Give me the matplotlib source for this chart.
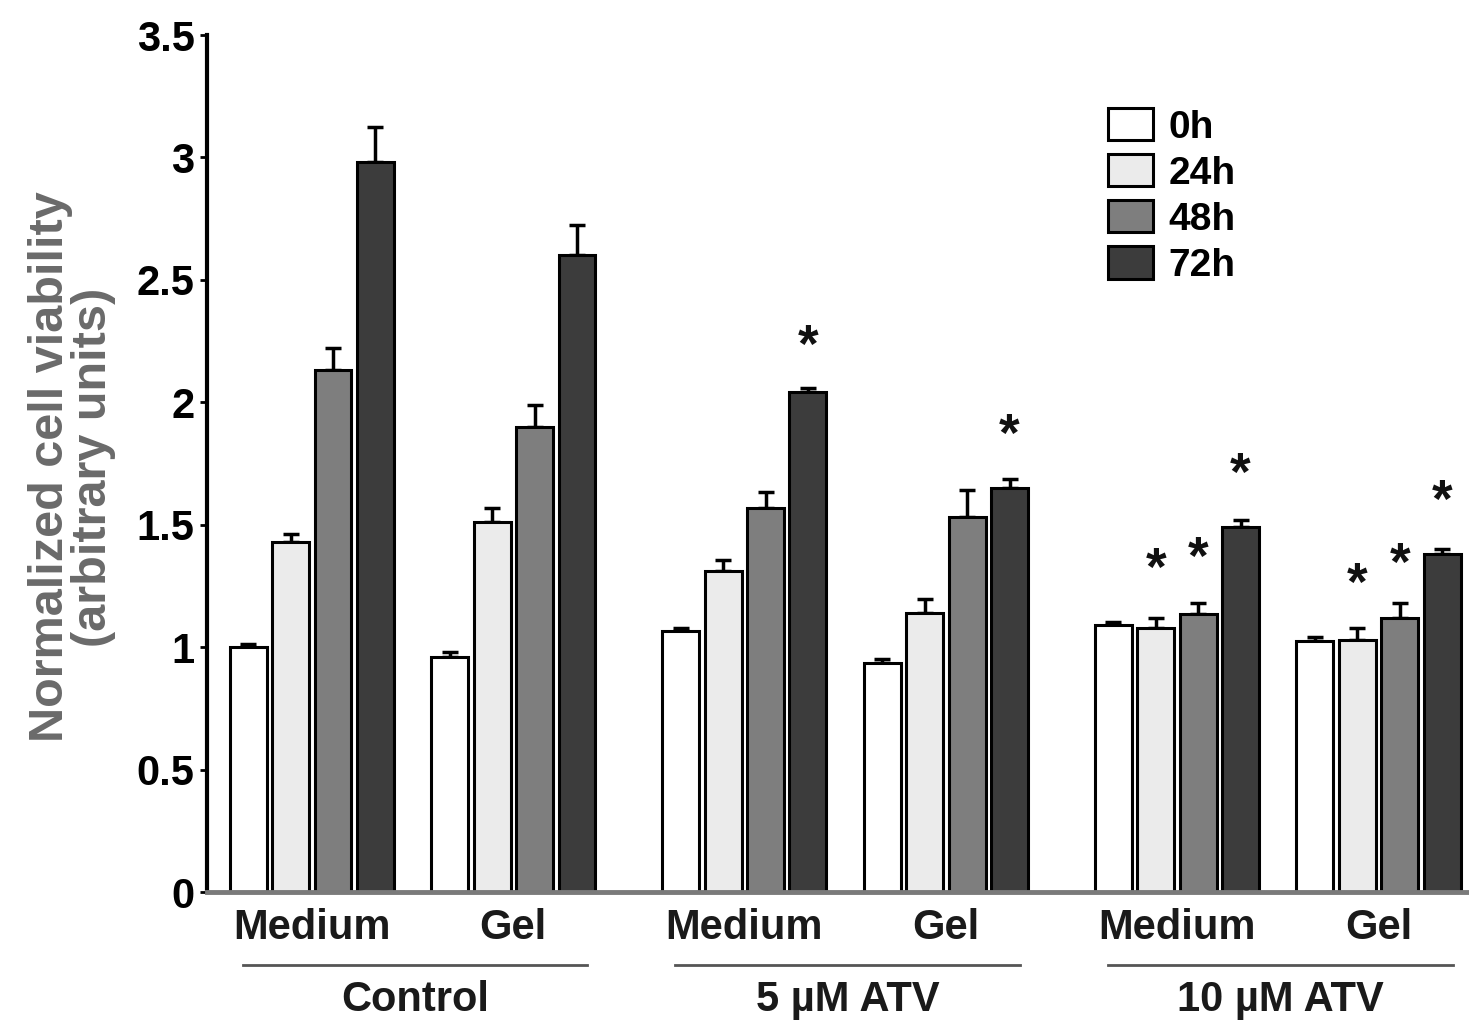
import matplotlib
matplotlib.use("Agg")
import matplotlib.pyplot as plt
import matplotlib.transforms as mtransforms
from matplotlib.patches import Patch
import numpy as np

plt.rcParams['font.family'] = ['Liberation Sans', 'DejaVu Sans']
plt.rcParams['font.weight'] = 'bold'

treatments = ["Control", "5 \u00b5M ATV", "10 \u00b5M ATV"]
conditions = ["Medium", "Gel"]
times = ["0h", "24h", "48h", "72h"]

# values per subgroup: Control-Medium, Control-Gel, 5uM-Medium, 5uM-Gel, 10uM-Medium, 10uM-Gel
means = {
    "0h":  [1.00, 0.96, 1.065, 0.935, 1.09, 1.025],
    "24h": [1.43, 1.51, 1.31, 1.14, 1.08, 1.03],
    "48h": [2.13, 1.90, 1.57, 1.53, 1.135, 1.12],
    "72h": [2.98, 2.60, 2.04, 1.65, 1.49, 1.38],
}
errors = {
    "0h":  [0.012, 0.02, 0.015, 0.015, 0.012, 0.018],
    "24h": [0.032, 0.06, 0.045, 0.055, 0.04, 0.05],
    "48h": [0.09, 0.09, 0.065, 0.11, 0.045, 0.06],
    "72h": [0.145, 0.125, 0.02, 0.035, 0.03, 0.02],
}
# significance stars: (subgroup index, time) -> star height
stars = {
    (2, "72h"): 2.22, (3, "72h"): 1.86,
    (4, "24h"): 1.31, (4, "48h"): 1.355, (4, "72h"): 1.70,
    (5, "24h"): 1.25, (5, "48h"): 1.33, (5, "72h"): 1.59,
}

colors = {"0h": "#ffffff", "24h": "#ebebeb", "48h": "#7e7e7e", "72h": "#3c3c3c"}

fig = plt.figure(figsize=(14.69, 10.27), dpi=100)
ax = fig.add_axes([207/1469, 135/1027, 1262/1469, 857/1027])

width = 0.88
sub_starts = []
for t in range(3):
    for s in range(2):
        sub_starts.append(t * 10.3 + s * 4.8)
sub_starts = np.array(sub_starts)

for k, tm in enumerate(times):
    xs = sub_starts + k * 1.01
    ax.bar(xs, means[tm], width=width, color=colors[tm], edgecolor="black",
           linewidth=2.2, zorder=2)
    ax.errorbar(xs, means[tm], yerr=[np.zeros(6), errors[tm]], fmt="none",
                ecolor="black", elinewidth=2.5, capsize=6, capthick=2.5, zorder=1)

for (g, tm), h in stars.items():
    k = times.index(tm)
    ax.text(sub_starts[g] + k * 1.01, h, "*", ha="center", va="center",
            fontsize=38, fontweight="bold", color="#111111")

ax.set_xlim(-0.98, 29.07)
ax.set_ylim(0, 3.5)
ax.set_yticks(np.arange(0, 3.51, 0.5))
ax.set_yticklabels(["0", "0.5", "1", "1.5", "2", "2.5", "3", "3.5"],
                   fontsize=30, fontweight="bold")
ax.set_xticks([])
for sp in ["top", "right"]:
    ax.spines[sp].set_visible(False)
ax.spines["left"].set_linewidth(3)
ax.spines["left"].set_color("black")
ax.spines["bottom"].set_linewidth(3.5)
ax.spines["bottom"].set_color("#7a7a7a")
ax.tick_params(axis="y", direction="out", length=5, width=2, pad=4)

trans = mtransforms.blended_transform_factory(ax.transData, ax.transAxes)
for g in range(6):
    cx = sub_starts[g] + 1.5 * 1.01
    ax.text(cx, -0.042, conditions[g % 2], transform=trans, ha="center",
            va="center", fontsize=30, fontweight="bold", color="#1a1a1a")
for t in range(3):
    x0 = sub_starts[2 * t] - 0.13
    x1 = sub_starts[2 * t + 1] + 3 * 1.01 + 0.25
    ax.plot([x0, x1], [-0.085, -0.085], transform=trans, color="#555555",
            linewidth=2, clip_on=False)
    ax.text((x0 + x1) / 2, -0.126, treatments[t], transform=trans,
            ha="center", va="center", fontsize=30, fontweight="bold",
            color="#1a1a1a")

fig.text(72/1469, (1027-467)/1027,
         "Normalized cell viability\n(arbitrary units)", rotation=90,
         ha="center", va="center", fontsize=35, fontweight="bold",
         color="#6a6a6a", linespacing=0.92)

handles = [Patch(facecolor=colors[tm], edgecolor="black", linewidth=2.2)
           for tm in times]
ax.legend(handles, times, loc="upper left", bbox_to_anchor=(0.702, 0.933),
          frameon=False, fontsize=28, handlelength=1.15, handleheight=0.9,
          handletextpad=0.4, labelspacing=0.22, borderaxespad=0)

fig.savefig("out.png", dpi=100)
